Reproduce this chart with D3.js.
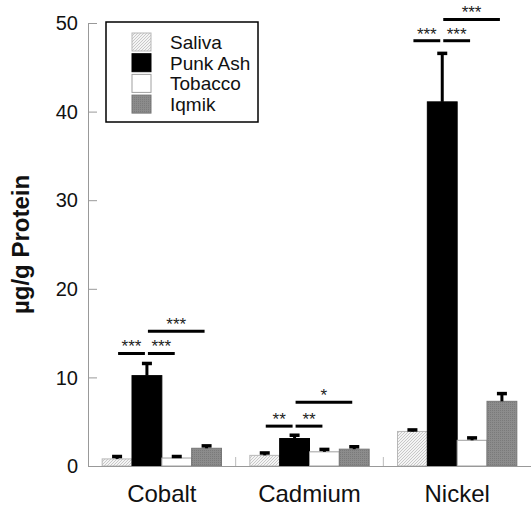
<!DOCTYPE html>
<html>
<head>
<meta charset="utf-8">
<script src="https://cdn.jsdelivr.net/npm/d3@7"></script>
<style>
  html, body { margin: 0; padding: 0; background: #fff; }
  svg { display: block; }
  text { font-family: "Liberation Sans", Arial, Helvetica, sans-serif; }
</style>
</head>
<body>
<svg id="chart" width="531" height="506"></svg>
<script>
// Metals measured, series per sample type
const metals = ["Cobalt", "Cadmium", "Nickel"];
const samples = ["Saliva", "Punk Ash", "Tobacco", "Iqmik"];

// Mean values (µg/g protein), one array per sample type, ordered as metals
const saliva   = [0.8, 1.2, 3.9];
const punkAsh  = [10.2, 3.1, 41.1];
const tobacco  = [0.9, 1.6, 2.9];
const iqmik    = [2.0, 1.9, 7.3];

// Error (upper bar length), same layout
const salivaErr  = [0.3, 0.3, 0.2];
const punkAshErr = [1.4, 0.4, 5.5];
const tobaccoErr = [0.2, 0.3, 0.3];
const iqmikErr   = [0.3, 0.3, 0.9];

// Y axis ticks
const yTicks = [0, 10, 20, 30, 40, 50];

// Significance brackets: metal, from, to, height (data units), label
const sigMetal = ["Cobalt", "Cobalt", "Cobalt", "Cadmium", "Cadmium", "Cadmium", "Nickel", "Nickel", "Nickel"];
const sigFrom  = ["Saliva", "Punk Ash", "Punk Ash", "Saliva", "Punk Ash", "Punk Ash", "Saliva", "Punk Ash", "Punk Ash"];
const sigTo    = ["Punk Ash", "Tobacco", "Iqmik", "Punk Ash", "Tobacco", "Iqmik", "Punk Ash", "Tobacco", "Iqmik"];
const sigLevel = [12.7, 12.7, 15.2, 4.5, 4.5, 7.2, 48.0, 48.0, 50.4];
const sigLabel = ["***", "***", "***", "**", "**", "*", "***", "***", "***"];

const seriesValues = { "Saliva": saliva, "Punk Ash": punkAsh, "Tobacco": tobacco, "Iqmik": iqmik };
const seriesErrors = { "Saliva": salivaErr, "Punk Ash": punkAshErr, "Tobacco": tobaccoErr, "Iqmik": iqmikErr };

const svg = d3.select("#chart");
const defs = svg.append("defs");

// Fine diagonal hatch for saliva
const hatch = defs.append("pattern")
  .attr("id", "hatch").attr("patternUnits", "userSpaceOnUse")
  .attr("width", 3).attr("height", 3);
hatch.append("rect").attr("width", 3).attr("height", 3).attr("fill", "#f4f4f4");
hatch.append("path").attr("d", "M-1,1 l2,-2 M0,3 l3,-3 M2,4 l2,-2")
  .attr("stroke", "#bdbdbd").attr("stroke-width", 0.8);

// Fine stipple for iqmik
const stip = defs.append("pattern")
  .attr("id", "stipple").attr("patternUnits", "userSpaceOnUse")
  .attr("width", 2).attr("height", 2);
stip.append("rect").attr("width", 2).attr("height", 2).attr("fill", "#8c8c8c");
stip.append("rect").attr("width", 1).attr("height", 1).attr("fill", "#7a7a7a");

const fills   = { "Saliva": "url(#hatch)", "Punk Ash": "#000", "Tobacco": "#fff", "Iqmik": "url(#stipple)" };
const strokes = { "Saliva": "#b8b8b8", "Punk Ash": "#000", "Tobacco": "#a0a0a0", "Iqmik": "#777" };

const plotLeft = 88, plotRight = 531, plotTop = 23, plotBottom = 466;

const y = d3.scaleLinear().domain([0, 50]).range([plotBottom, plotTop]);
const x0 = d3.scaleBand().domain(metals).range([plotLeft, plotRight]).paddingInner(0).paddingOuter(0);
const x1 = d3.scaleBand().domain(samples).range([0, x0.bandwidth()]).paddingInner(0).paddingOuter(0.475);

const cx = (m, s) => x0(m) + x1(s) + x1.bandwidth() / 2;

// Y axis (ticks pointing inward)
const yAxis = svg.append("g")
  .attr("transform", `translate(${plotLeft},0)`)
  .call(d3.axisRight(y).tickValues(yTicks).tickSize(9).tickFormat(""));
yAxis.select(".domain").attr("stroke", "#999").attr("stroke-width", 1);
yAxis.selectAll(".tick line").attr("stroke", "#999");

svg.append("g").selectAll("text").data(yTicks).join("text")
  .attr("x", plotLeft - 10).attr("y", d => y(d)).attr("dy", "0.36em")
  .attr("text-anchor", "end").attr("font-size", 20).attr("fill", "#111")
  .text(d => d);

// Y axis title
svg.append("text")
  .attr("transform", `translate(29,${(plotTop + plotBottom) / 2}) rotate(-90)`)
  .attr("text-anchor", "middle").attr("font-size", 24).attr("font-weight", "bold")
  .attr("fill", "#111")
  .text("µg/g Protein");

// Bars
const barData = [];
metals.forEach((m, i) => samples.forEach(s => {
  barData.push({ metal: m, sample: s, value: seriesValues[s][i], err: seriesErrors[s][i] });
}));

svg.append("g").selectAll("rect").data(barData).join("rect")
  .attr("x", d => x0(d.metal) + x1(d.sample))
  .attr("y", d => y(d.value))
  .attr("width", x1.bandwidth())
  .attr("height", d => y(0) - y(d.value))
  .attr("fill", d => fills[d.sample])
  .attr("stroke", d => strokes[d.sample])
  .attr("stroke-width", 1);

// Error bars (upper only)
const eb = svg.append("g");
eb.selectAll("line").data(barData).join("line")
  .attr("x1", d => cx(d.metal, d.sample)).attr("x2", d => cx(d.metal, d.sample))
  .attr("y1", d => y(d.value)).attr("y2", d => y(d.value + d.err))
  .attr("stroke", "#000").attr("stroke-width", 3);
eb.selectAll("rect").data(barData).join("rect")
  .attr("x", d => cx(d.metal, d.sample) - 5)
  .attr("y", d => y(d.value + d.err) - 1.5)
  .attr("width", 10).attr("height", 3.5)
  .attr("fill", "#000");

// X axis baseline and group separators
const xAxis = svg.append("g")
  .attr("transform", `translate(0,${plotBottom})`)
  .call(d3.axisBottom(x0).tickSize(0).tickFormat(""));
xAxis.select(".domain").attr("stroke", "#999").attr("stroke-width", 1);
svg.append("g").selectAll("line").data(metals.slice(0, -1)).join("line")
  .attr("x1", d => x0(d) + x0.bandwidth()).attr("x2", d => x0(d) + x0.bandwidth())
  .attr("y1", plotBottom).attr("y2", plotBottom - 9)
  .attr("stroke", "#bbb").attr("stroke-width", 1);

svg.append("g").selectAll("text").data(metals).join("text")
  .attr("x", d => x0(d) + x0.bandwidth() / 2)
  .attr("y", 502)
  .attr("text-anchor", "middle").attr("font-size", 24).attr("fill", "#111")
  .text(d => d);

// Significance brackets
const sig = sigMetal.map((m, i) => ({
  x1: cx(m, sigFrom[i]) + 1, x2: cx(m, sigTo[i]) - 2, yv: y(sigLevel[i]), label: sigLabel[i]
}));
const sg = svg.append("g");
sg.selectAll("line").data(sig).join("line")
  .attr("x1", d => d.x1).attr("x2", d => d.x2)
  .attr("y1", d => d.yv).attr("y2", d => d.yv)
  .attr("stroke", "#000").attr("stroke-width", 3);
sg.selectAll("text").data(sig).join("text")
  .attr("x", d => (d.x1 + d.x2) / 2).attr("y", d => d.yv - 1)
  .attr("text-anchor", "middle").attr("font-size", 17).attr("fill", "#222")
  .text(d => d.label);

// Legend
const lg = svg.append("g");
lg.append("rect").attr("x", 106).attr("y", 22).attr("width", 152).attr("height", 100)
  .attr("fill", "#fff").attr("stroke", "#000").attr("stroke-width", 1.5);
const rows = lg.selectAll("g").data(samples).join("g")
  .attr("transform", (d, i) => `translate(132,${33 + i * 20.7})`);
rows.append("rect").attr("width", 19).attr("height", 18)
  .attr("fill", d => fills[d]).attr("stroke", d => strokes[d]).attr("stroke-width", 1);
rows.append("text").attr("x", 38).attr("y", 9).attr("dy", "0.36em")
  .attr("font-size", 19).attr("fill", "#111")
  .text(d => d);
</script>
</body>
</html>
